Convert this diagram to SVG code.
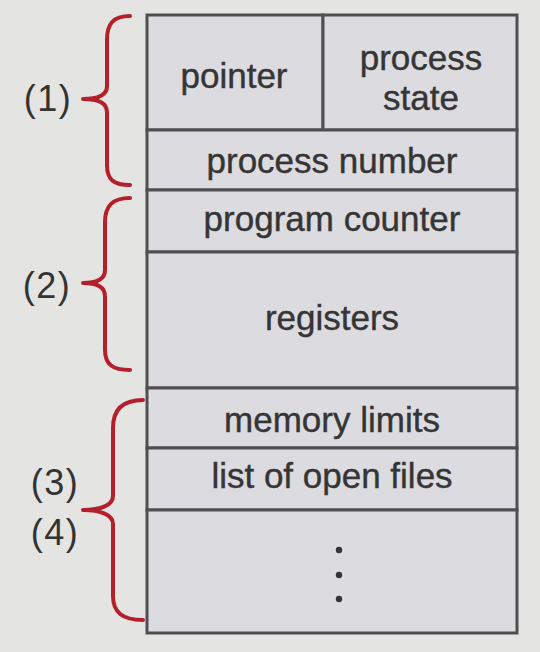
<svg xmlns="http://www.w3.org/2000/svg" width="540" height="652" viewBox="0 0 540 652">
<style>
.cell{fill:#dcdbe0;stroke:#4f4f4f;stroke-width:3}
.t{font-family:"Liberation Sans",Arial,sans-serif;font-size:35px;fill:#353535;stroke:#353535;stroke-width:0.4;text-anchor:middle}
.lbl{font-family:"Liberation Sans",Arial,sans-serif;font-size:36px;fill:#333333;text-anchor:middle;letter-spacing:1.5px}
.brace{fill:none;stroke:#b3202c;stroke-width:4;stroke-linecap:round;stroke-linejoin:round}
</style>
<rect width="540" height="652" fill="#e4e4e2"/>
<g id="pointer"><rect class="cell" x="147" y="15" width="176" height="115"/><text class="t" x="234" y="88">pointer</text></g>
<g id="process-state"><rect class="cell" x="323" y="15" width="194" height="115"/><text class="t" x="421" y="70">process</text><text class="t" x="421" y="110">state</text></g>
<g id="process-number"><rect class="cell" x="147" y="130" width="370" height="60"/><text class="t" x="332" y="173">process number</text></g>
<g id="program-counter"><rect class="cell" x="147" y="190" width="370" height="62"/><text class="t" x="332" y="231">program counter</text></g>
<g id="registers"><rect class="cell" x="147" y="252" width="370" height="136"/><text class="t" x="332" y="330">registers</text></g>
<g id="memory-limits"><rect class="cell" x="147" y="388" width="370" height="60"/><text class="t" x="332" y="432">memory limits</text></g>
<g id="open-files"><rect class="cell" x="147" y="448" width="370" height="62"/><text class="t" x="332" y="488">list of open files</text></g>
<g id="more"><rect class="cell" x="147" y="510" width="370" height="123"/><circle cx="339" cy="550" r="3.2" fill="#353535"/><circle cx="339" cy="575" r="3.2" fill="#353535"/><circle cx="339" cy="599" r="3.2" fill="#353535"/></g>
<g id="connectors">
<path class="brace" d="M130,16 C113,16 107,24 107,40 L107,86 C107,95 99,99 83,99 C99,99 107,103 107,112 L107,165 C107,180 114,185 130,185"/>
<path class="brace" d="M130,198 C112,198 105,206 105,222 L105,270 C105,279 97,283 83,283 C97,283 105,287 105,296 L105,350 C105,364 112,370 130,370"/>
<path class="brace" d="M143,400 C122,400 113,410 113,428 L113,496 C113,505 101,510 83,510 C101,510 113,515 113,524 L113,596 C113,612 122,620 143,620"/>
</g>
<g id="labels">
<text class="lbl" x="48" y="111">(1)</text>
<text class="lbl" x="47" y="298">(2)</text>
<text class="lbl" x="55" y="495">(3)</text>
<text class="lbl" x="55" y="545">(4)</text>
</g>
</svg>
